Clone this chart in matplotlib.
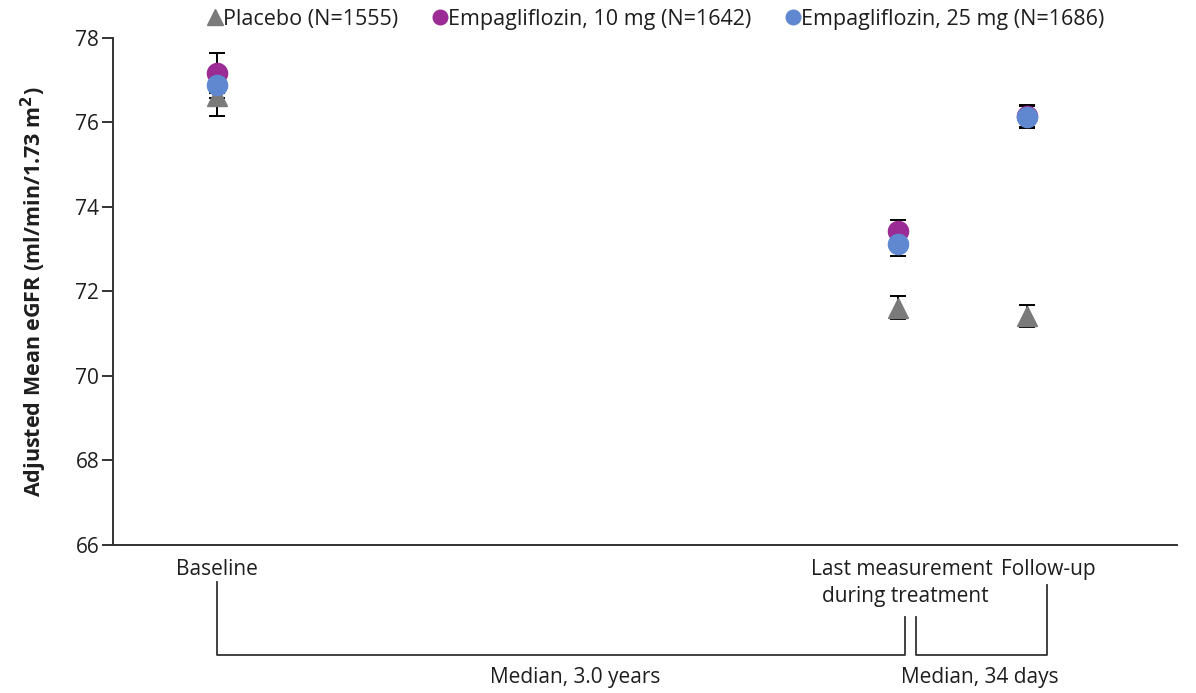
import matplotlib
matplotlib.use("Agg")
import matplotlib.pyplot as plt
from matplotlib.lines import Line2D
from matplotlib.transforms import blended_transform_factory

plt.rcParams['font.family'] = ['Open Sans', 'DejaVu Sans']

# Time points and adjusted mean eGFR (ml/min/1.73 m2) with standard errors
timepoints = ["Baseline", "Last measurement\nduring treatment", "Follow-up"]
placebo_mean = [76.62, 71.62, 71.42]
placebo_err = [0.47, 0.27, 0.26]
empa10_mean = [77.17, 73.43, 76.16]
empa10_err = [0.47, 0.26, 0.26]
empa25_mean = [76.88, 73.12, 76.14]
empa25_err = [0.30, 0.28, 0.26]
series_labels = ["Placebo (N=1555)", "Empagliflozin, 10 mg (N=1642)",
                 "Empagliflozin, 25 mg (N=1686)"]
y_ticks = [66, 68, 70, 72, 74, 76, 78]

# horizontal placement of the three time points
x_pos = [0.0, 3.0, 3.568]

c_placebo = "#7a7a7a"
c_10 = "#9b2c95"
c_25 = "#5f88d0"
ink = "#1e1e1e"
fs = 15

fig = plt.figure(figsize=(11.96, 6.93), dpi=100)
ax = fig.add_axes([0.0945, 0.2136, 0.8896, 0.7316])

for means, errs in [(placebo_mean, placebo_err), (empa10_mean, empa10_err),
                    (empa25_mean, empa25_err)]:
    ax.errorbar(x_pos, means, yerr=errs, fmt='none', ecolor='black',
                elinewidth=1.4, capsize=5.6, capthick=1.4, zorder=2)

ax.plot(x_pos, placebo_mean, linestyle='none', marker='^', markersize=14,
        color=c_placebo, zorder=3)
ax.plot(x_pos, empa10_mean, linestyle='none', marker='o', markersize=14.5,
        color=c_10, zorder=4)
ax.plot(x_pos, empa25_mean, linestyle='none', marker='o', markersize=14.5,
        color=c_25, zorder=5)

ax.set_ylim(66, 78)
ax.set_xlim(-0.458, 4.229)
ax.set_yticks(y_ticks)
ax.set_yticklabels([str(v) for v in y_ticks], fontsize=fs, color=ink)
ax.set_xticks([])
ax.tick_params(axis='y', direction='out', length=8, width=1.4, color="#333333", pad=2)
for side in ['top', 'right']:
    ax.spines[side].set_visible(False)
for side in ['left', 'bottom']:
    ax.spines[side].set_color("#333333")
    ax.spines[side].set_linewidth(1.4)

ax.set_ylabel("Adjusted Mean eGFR (ml/min/1.73 m$^\\mathbf{2}$)", fontsize=15.5,
              fontweight='bold', color=ink, labelpad=19)

# category labels under the axis
tr = blended_transform_factory(ax.transData, ax.transAxes)
ax.text(x_pos[0], -0.049, "Baseline", transform=tr, ha='center', va='center',
        fontsize=fs, color=ink)
ax.text(0.8268, -0.049, "Last measurement", transform=ax.transAxes,
        ha='right', va='center', fontsize=fs, color=ink)
ax.text(0.8230, -0.102, "during treatment", transform=ax.transAxes,
        ha='right', va='center', fontsize=fs, color=ink)
ax.text(0.8788, -0.049, "Follow-up", transform=ax.transAxes,
        ha='center', va='center', fontsize=fs, color=ink)

# brackets showing the median intervals
bk = dict(color="#333333", linewidth=1.3, clip_on=False, transform=ax.transAxes)
ax.add_line(Line2D([0.0977, 0.0977, 0.7444, 0.7444],
                   [-0.073, -0.217, -0.217, -0.142], **bk))
ax.add_line(Line2D([0.7547, 0.7547, 0.8778, 0.8778],
                   [-0.142, -0.217, -0.217, -0.079], **bk))
ax.text(0.4342, -0.262, "Median, 3.0 years", transform=ax.transAxes,
        ha='center', va='center', fontsize=fs, color=ink)
ax.text(0.8148, -0.262, "Median, 34 days", transform=ax.transAxes,
        ha='center', va='center', fontsize=fs, color=ink)

handles = [
    Line2D([], [], linestyle='none', marker='^', markersize=11, color=c_placebo),
    Line2D([], [], linestyle='none', marker='o', markersize=10.5, color=c_10),
    Line2D([], [], linestyle='none', marker='o', markersize=10.5, color=c_25),
]
fig.legend(handles, series_labels, loc='center', ncol=3,
           bbox_to_anchor=(0.549, 0.972), frameon=False, fontsize=15.5,
           handlelength=0.55, handletextpad=0.1, columnspacing=1.65,
           labelcolor=ink)

fig.savefig("out.png", dpi=100, facecolor='white')
